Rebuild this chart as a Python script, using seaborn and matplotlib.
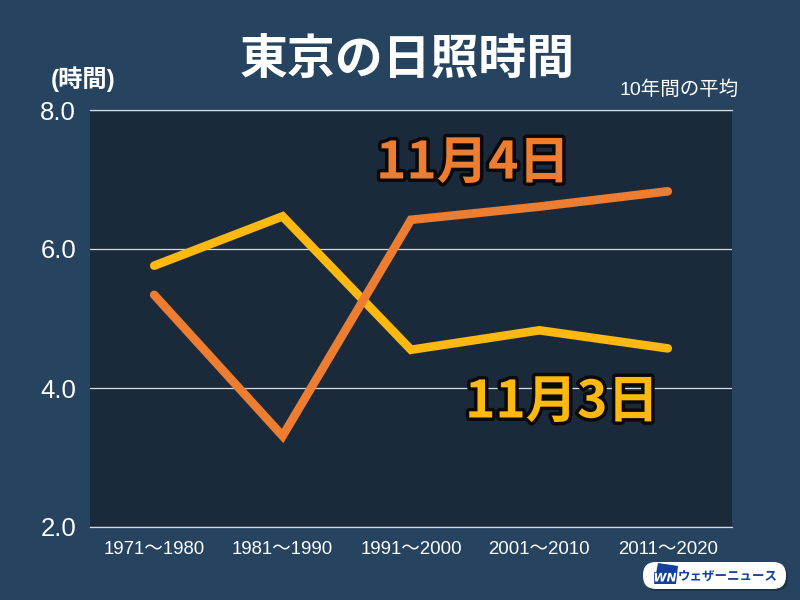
import matplotlib
matplotlib.use("Agg")
import matplotlib.pyplot as plt
import matplotlib.patheffects as pe
from matplotlib.patches import FancyBboxPatch, Polygon
import pandas as pd
import seaborn as sns

decades = ["1971～1980", "1981～1990", "1991～2000", "2001～2010", "2011～2020"]
nov3 = [5.76, 6.47, 4.55, 4.83, 4.57]
nov4 = [5.34, 3.31, 6.42, 6.61, 6.83]
yticks = [2.0, 4.0, 6.0, 8.0]
title = "東京の日照時間"

BG = "#26435f"
PANEL = "#1b2a3a"
YEL = "#fdb90f"
ORG = "#ed7d31"
NAVY = "#12409b"

sns.set_theme(style="white")
plt.rcParams["font.family"] = ["Liberation Sans", "Noto Sans CJK JP", "DejaVu Sans"]

fig = plt.figure(figsize=(8, 6), dpi=100, facecolor=BG)
ax = fig.add_axes([90/800, 1-527/600, 642/800, 417/600], facecolor=PANEL)

df = pd.DataFrame({"x": list(range(5))*2, "y": nov3+nov4,
                   "s": ["11月3日"]*5+["11月4日"]*5})
sns.lineplot(data=df, x="x", y="y", hue="s", palette={"11月3日": YEL, "11月4日": ORG},
             linewidth=6.2, legend=False, ax=ax, solid_capstyle="round", solid_joinstyle="miter", zorder=3)

ax.set_xlim(-0.5, 4.5)
ax.set_ylim(2, 8)
ax.set_xlabel(""); ax.set_ylabel("")
ax.set_xticks(range(5), decades, color="white", fontsize=13.4)
ax.set_yticks(yticks, [f"{v:.1f}" for v in yticks], color="white", fontsize=18.5)
ax.tick_params(axis="x", length=0, pad=10)
ax.tick_params(axis="y", length=0, pad=10)
ax.grid(axis="y", color="#d5dade", linewidth=0.9, zorder=1)
ax.set_axisbelow(True)
for s in ax.spines.values():
    s.set_visible(False)
for s in ("top", "bottom"):
    ax.spines[s].set_visible(True)
    ax.spines[s].set_color("#d5dade")
    ax.spines[s].set_linewidth(0.9)

def ft(x, y, s, **k):
    return fig.text(x/800, 1-y/600, s, **k)

ft(407, 59, title, color="white", fontsize=34.5, fontweight="bold", ha="center", va="center",
   family=["Noto Sans CJK JP"])
ft(83, 79, "(時間)", color="white", fontsize=17.5, fontweight="bold", ha="center", va="center")
ft(679, 90, "10年間の平均", color="white", fontsize=14, ha="center", va="center")

stroke = [pe.withStroke(linewidth=5, foreground="#0a0a0a")]
ft(473, 163, "11月4日", color=ORG, fontsize=37, fontweight="bold", ha="center", va="center",
   path_effects=stroke, family=["Noto Sans CJK JP"])
ft(562, 402, "11月3日", color=YEL, fontsize=37, fontweight="bold", ha="center", va="center",
   path_effects=stroke, family=["Noto Sans CJK JP"])

# logo badge
ov = fig.add_axes([0, 0, 1, 1], facecolor="none")
ov.set_xlim(0, 800); ov.set_ylim(600, 0); ov.axis("off")
ov.add_patch(FancyBboxPatch((645, 564), 143, 27, boxstyle="round,pad=0,rounding_size=13",
                            fc="#14202c", ec="none", alpha=0.45, zorder=0))
ov.add_patch(FancyBboxPatch((643, 562), 143, 27, boxstyle="round,pad=0,rounding_size=13",
                            fc="white", ec="none", zorder=1))
ov.add_patch(Polygon([[658, 563], [678, 566], [676, 584], [654, 584]], fc=NAVY, ec="none", zorder=2))
ov.text(665, 578, "WN", color="white", fontsize=8.5, fontweight="bold", style="italic",
        ha="center", va="center", zorder=3, family="DejaVu Sans",
        path_effects=[pe.withStroke(linewidth=1.2, foreground=NAVY)])
ov.text(728, 576, "ウェザーニュース", color=NAVY, fontsize=9, fontweight="bold",
        ha="center", va="center", zorder=3, family="Noto Sans CJK JP")

fig.savefig("out.png", dpi=100, facecolor=BG)
